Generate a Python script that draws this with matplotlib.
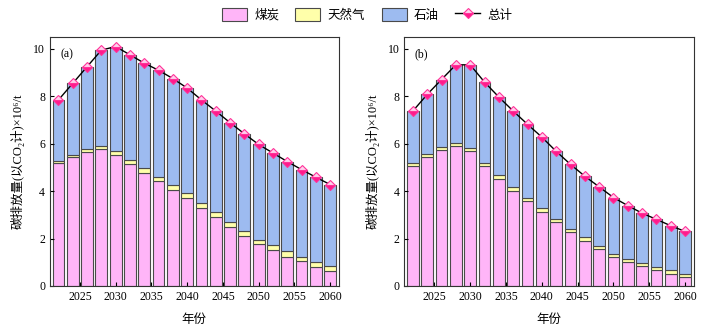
import numpy as np
import matplotlib
matplotlib.use("Agg")
import matplotlib.pyplot as plt
from matplotlib.lines import Line2D
from matplotlib.patches import Patch

plt.rcParams["font.family"] = ["Liberation Serif", "Noto Sans CJK SC", "DejaVu Sans"]

years = list(range(2022, 2061, 2))

# (a)
coal_a = [5.19, 5.44, 5.65, 5.78, 5.54, 5.16, 4.77, 4.43, 4.07, 3.72,
          3.27, 2.89, 2.50, 2.12, 1.75, 1.51, 1.23, 1.04, 0.81, 0.62]
gas_a = [0.08, 0.10, 0.13, 0.12, 0.17, 0.17, 0.19, 0.18, 0.19, 0.19,
         0.21, 0.21, 0.20, 0.21, 0.21, 0.20, 0.24, 0.19, 0.21, 0.21]
total_a = [7.85, 8.55, 9.25, 9.95, 10.10, 9.75, 9.40, 9.10, 8.75, 8.35,
           7.85, 7.38, 6.89, 6.42, 5.97, 5.61, 5.25, 4.91, 4.59, 4.28]

# (b)
coal_b = [5.08, 5.44, 5.72, 5.92, 5.68, 5.08, 4.53, 4.01, 3.58, 3.11,
          2.68, 2.26, 1.89, 1.54, 1.22, 1.02, 0.84, 0.67, 0.52, 0.38]
gas_b = [0.12, 0.14, 0.16, 0.12, 0.14, 0.12, 0.14, 0.17, 0.15, 0.16,
         0.15, 0.14, 0.16, 0.14, 0.15, 0.13, 0.14, 0.14, 0.14, 0.12]
total_b = [7.38, 8.08, 8.71, 9.33, 9.33, 8.60, 7.97, 7.38, 6.82, 6.28,
           5.68, 5.13, 4.63, 4.18, 3.73, 3.39, 3.07, 2.81, 2.54, 2.30]

panels = [("(a)", coal_a, gas_a, total_a), ("(b)", coal_b, gas_b, total_b)]

c_coal = "#FFB5F8"
c_gas = "#FFFFAA"
c_oil = "#9DBBF0"
c_edge = "#4a4a4a"

fig = plt.figure(figsize=(7.13, 3.31), dpi=100)
axes = [fig.add_axes([0.070, 0.136, 0.405, 0.752]),
        fig.add_axes([0.567, 0.136, 0.406, 0.752])]

marker_kw = dict(marker="D", ms=4.8, fillstyle="bottom",
                 markerfacecolor="#FF1A8C", markerfacecoloralt="#FFD0EC",
                 markeredgecolor="#FF3399", markeredgewidth=0.8)

x = np.array(years)
for ax, (tag, coal, gas, total) in zip(axes, panels):
    coal = np.array(coal)
    gas = np.array(gas)
    total = np.array(total)
    oil = total - coal - gas
    kw = dict(width=1.65, edgecolor=c_edge, linewidth=0.8)
    ax.bar(x, coal, color=c_coal, **kw)
    ax.bar(x, gas, bottom=coal, color=c_gas, **kw)
    ax.bar(x, oil, bottom=coal + gas, color=c_oil, **kw)
    ax.plot(x, total, color="black", lw=1.0, **marker_kw)
    ax.set_xlim(2020.8, 2061.2)
    ax.set_ylim(0, 10.5)
    ax.set_xticks(range(2025, 2061, 5))
    ax.set_yticks(range(0, 11, 2))
    ax.tick_params(direction="in", labelsize=8.5, length=3, width=0.8)
    for s in ax.spines.values():
        s.set_color("#333333")
        s.set_linewidth(0.8)
    ax.text(0.035, 0.955, tag, transform=ax.transAxes, ha="left", va="top",
            fontsize=8.5)
    ax.set_xlabel("年份", fontsize=9, labelpad=8)
    ax.set_ylabel("碳排放量(以CO₂计)×10⁶/t", fontsize=9, labelpad=6)

handles = [
    Patch(facecolor=c_coal, edgecolor=c_edge, linewidth=0.8, label="煤炭"),
    Patch(facecolor=c_gas, edgecolor=c_edge, linewidth=0.8, label="天然气"),
    Patch(facecolor=c_oil, edgecolor=c_edge, linewidth=0.8, label="石油"),
    Line2D([], [], color="black", lw=1.0, label="总计", **marker_kw),
]
fig.legend(handles=handles, loc="center", bbox_to_anchor=(0.515, 0.955),
           ncol=4, frameon=False, fontsize=9, handlelength=2.0,
           handleheight=1.2, columnspacing=1.3, handletextpad=0.6)

fig.savefig("out.png", dpi=100)
